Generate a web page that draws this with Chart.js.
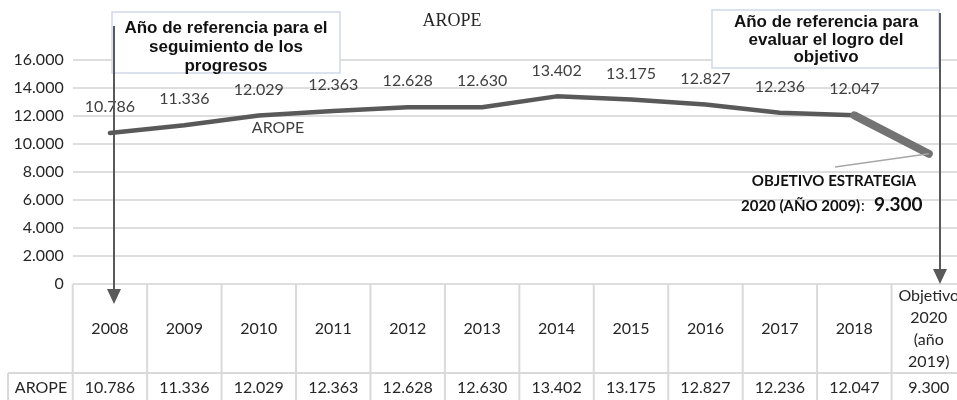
<!DOCTYPE html>
<html>
<head>
<meta charset="utf-8">
<script src="https://cdn.jsdelivr.net/npm/chart.js@4.4.1/dist/chart.umd.min.js"></script>
<style>
  html, body { margin: 0; padding: 0; overflow: hidden; background: #fff; }
</style>
</head>
<body>
<canvas id="graficaArope" width="966" height="400"></canvas>
<script>
// datos del gráfico
const categorias = ['2008', '2009', '2010', '2011', '2012', '2013', '2014', '2015', '2016', '2017', '2018', ['Objetivo', '2020', '(año', '2019)']];
const valoresArope = [10786, 11336, 12029, 12363, 12628, 12630, 13402, 13175, 12827, 12236, 12047, 9300];
const ticksY = [0, 2000, 4000, 6000, 8000, 10000, 12000, 14000, 16000];
const nombreSerie = 'AROPE';

// formato con punto de miles
function fmt(v) {
    return String(v).replace(/\B(?=(\d{3})+(?!\d))/g, '.');
}

function texto(ctx, s, x, y, font, color, align) {
    ctx.font = font;
    ctx.fillStyle = color || '#262626';
    ctx.textAlign = align || 'center';
    ctx.fillText(s, x, y);
}

const tablaPlugin = {
    id: 'tablaPlugin',
    afterDraw(chart) {
        const ctx = chart.ctx;
        const xs = chart.scales.x;
        const area = chart.chartArea;
        const n = valoresArope.length;
        const medio = (xs.getPixelForValue(1) - xs.getPixelForValue(0)) / 2;
        const filaY = 373;
        const fuente = '16px Lato';

        ctx.save();

        // cuadrícula de la tabla
        ctx.strokeStyle = '#d9d9d9';
        ctx.lineWidth = 2;
        ctx.beginPath();
        for (let i = 0; i <= n; i++) {
            const bx = xs.getPixelForValue(i) - medio;
            ctx.moveTo(bx, area.bottom);
            ctx.lineTo(bx, 400);
        }
        ctx.moveTo(8, filaY);
        ctx.lineTo(area.right, filaY);
        ctx.moveTo(8, filaY);
        ctx.lineTo(8, 400);
        ctx.stroke();

        // textos de la tabla
        ctx.textBaseline = 'middle';
        categorias.forEach(function(c, i) {
            const cx = xs.getPixelForValue(i);
            const lineas = Array.isArray(c) ? c : [c];
            const y0 = 329 - (lineas.length - 1) * 11;
            lineas.forEach(function(l, j) {
                texto(ctx, l, cx, y0 + j * 22, fuente);
            });
            texto(ctx, fmt(valoresArope[i]), cx, 388, fuente);
        });
        texto(ctx, nombreSerie, 41, 388, fuente);

        // etiquetas de datos
        const meta = chart.getDatasetMeta(0);
        for (let i = 0; i < n - 1; i++) {
            const p = meta.data[i];
            texto(ctx, fmt(valoresArope[i]), p.x, p.y - 26, fuente, '#404040');
        }
        texto(ctx, nombreSerie, 278, 128, fuente, '#404040');

        // título
        texto(ctx, 'AROPE', 452, 21, '18px "Liberation Serif"', '#262626');

        // cuadros de texto
        ctx.fillStyle = '#fff';
        ctx.strokeStyle = '#cfd9e8';
        ctx.lineWidth = 1.5;
        ctx.fillRect(112, 12, 228, 61);
        ctx.strokeRect(112, 12, 228, 61);
        ctx.fillRect(712, 10, 227, 58);
        ctx.strokeRect(712, 10, 227, 58);

        const fb = 'bold 17px "Liberation Sans"';
        texto(ctx, 'Año de referencia para el', 226, 28, fb, '#111');
        texto(ctx, 'seguimiento de los', 226, 47, fb, '#111');
        texto(ctx, 'progresos', 226, 66, fb, '#111');
        texto(ctx, 'Año de referencia para', 826, 22, fb, '#111');
        texto(ctx, 'evaluar el logro del', 826, 40, fb, '#111');
        texto(ctx, 'objetivo', 826, 57, fb, '#111');

        // llamada del objetivo
        const pObj = meta.data[n - 1];
        ctx.strokeStyle = '#a6a6a6';
        ctx.lineWidth = 1.5;
        ctx.beginPath();
        ctx.moveTo(835, 167);
        ctx.lineTo(pObj.x, pObj.y);
        ctx.stroke();

        ctx.textBaseline = 'alphabetic';
        texto(ctx, 'OBJETIVO ESTRATEGIA', 834, 186, 'bold 15px Lato', '#111');
        texto(ctx, '2020 (AÑO 2009)', 741, 211, 'bold 15px Lato', '#111', 'left');
        texto(ctx, ':', 861, 211, '15px Lato', '#111', 'left');
        texto(ctx, fmt(valoresArope[n - 1]), 874, 211, 'bold 19px Lato', '#111', 'left');

        // flechas
        ctx.strokeStyle = '#595959';
        ctx.fillStyle = '#595959';
        ctx.lineWidth = 2;
        ctx.beginPath();
        ctx.moveTo(114, 26);
        ctx.lineTo(114, 292);
        ctx.moveTo(940, 13);
        ctx.lineTo(940, 272);
        ctx.stroke();
        ctx.beginPath();
        ctx.moveTo(107, 289);
        ctx.lineTo(121, 289);
        ctx.lineTo(114, 304);
        ctx.closePath();
        ctx.moveTo(933, 269);
        ctx.lineTo(947, 269);
        ctx.lineTo(940, 284);
        ctx.closePath();
        ctx.fill();

        ctx.restore();
    }
};

const ctxArope = document.getElementById('graficaArope');
new Chart(ctxArope, {
    type: 'line',
    data: {
        labels: categorias,
        datasets: [{
            label: nombreSerie,
            data: valoresArope,
            borderColor: '#595959',
            borderWidth: 4.5,
            pointRadius: 0,
            tension: 0,
            order: 2,
            borderCapStyle: 'round',
            borderJoinStyle: 'round'
        }, {
            label: 'Objetivo',
            data: valoresArope.map((v, i) => i >= valoresArope.length - 2 ? v : null),
            borderColor: '#737373',
            borderWidth: 8,
            pointRadius: 0,
            tension: 0,
            order: 1,
            borderCapStyle: 'round'
        }]
    },
    options: {
        responsive: false,
        animation: false,
        layout: {
            padding: { top: 60, bottom: 116, left: 0, right: 0 }
        },
        plugins: {
            legend: { display: false },
            tooltip: { enabled: false },
            title: { display: false }
        },
        scales: {
            x: {
                display: false,
                offset: true
            },
            y: {
                min: 0,
                max: 16000,
                afterBuildTicks: function(scale) {
                    scale.ticks = ticksY.map(v => ({ value: v }));
                },
                afterFit: function(scale) {
                    scale.width = 72.7;
                },
                ticks: {
                    padding: 9,
                    color: '#262626',
                    font: { family: 'Lato', size: 16 },
                    callback: v => fmt(v)
                },
                grid: {
                    color: '#dedede',
                    lineWidth: 2,
                    drawTicks: false
                },
                border: { display: false }
            }
        }
    },
    plugins: [tablaPlugin]
});
</script>
</body>
</html>
